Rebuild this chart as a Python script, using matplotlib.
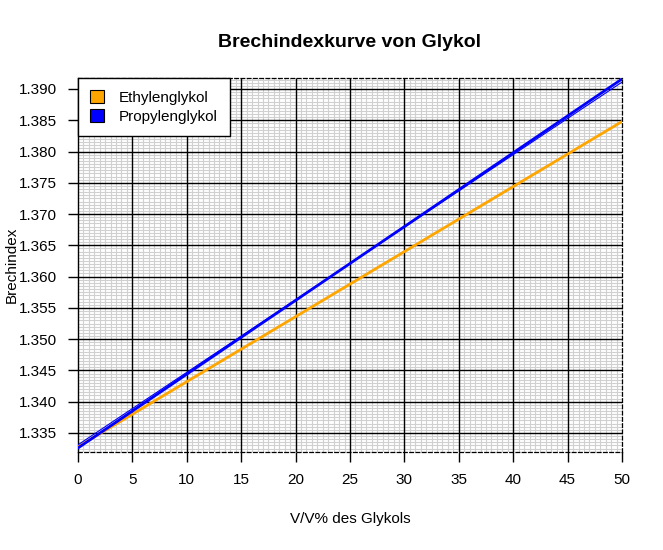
import matplotlib
matplotlib.use("Agg")
import matplotlib.pyplot as plt
from matplotlib.patches import Patch

plt.rcParams['font.family'] = ['Liberation Sans', 'DejaVu Sans']

# data
conc = [0, 10, 20, 30, 40, 50]
ethylen = [1.3328, 1.3432, 1.3536, 1.3640, 1.3744, 1.3848]
propylen = [1.3326, 1.3444, 1.3562, 1.3680, 1.3798, 1.3916]
propylen_fit = [1.3331, 1.3447, 1.3563, 1.3679, 1.3795, 1.3911]

x_ticks = list(range(0, 55, 5))
y_ticks = [1.335, 1.340, 1.345, 1.350, 1.355, 1.360, 1.365, 1.370,
           1.375, 1.380, 1.385, 1.390]

fig = plt.figure(figsize=(6.63, 5.5), dpi=100)
ax = fig.add_axes([0.1176, 0.1782, 0.8206, 0.68])

xlim = (0, 50)
ylim = (1.33196, 1.39176)

ax.set_xticks(x_ticks)
ax.set_yticks(y_ticks)
ax.set_yticklabels(["%.3f" % v for v in y_ticks])

# grid drawn by hand so the gray minor lines stay under the black ones
x_minor = [i * 0.5 for i in range(1, 100)]
y_minor = [1.332 + i * 0.0005 for i in range(120)]
ax.vlines(x_minor, *ylim, color='#d0d0d0', lw=0.8, zorder=0.5)
ax.hlines(y_minor, *xlim, color='#d0d0d0', lw=0.8, zorder=0.5)
ax.vlines(x_ticks[1:-1], *ylim, color='black', lw=1.0, zorder=1)
ax.hlines(y_ticks, *xlim, color='black', lw=1.0, zorder=1)
ax.set_xlim(*xlim)
ax.set_ylim(*ylim)

ax.tick_params(which='major', direction='out', length=7, width=1,
               labelsize=11, pad=8)

for side in ['top', 'right', 'bottom']:
    ax.spines[side].set_linestyle((0, (3, 2)))
    ax.spines[side].set_linewidth(0.9)
ax.spines['left'].set_linewidth(1.0)

ax.plot(conc, ethylen, color='orange', lw=2, zorder=3)
ax.plot(conc, propylen, color='blue', lw=2, zorder=4)
ax.plot(conc, propylen_fit, color='blue', lw=0.8, zorder=4)

ax.set_title("Brechindexkurve von Glykol", fontsize=14, fontweight='bold', pad=22)
ax.set_xlabel("V/V% des Glykols", fontsize=11, labelpad=18)
ax.set_ylabel("Brechindex", fontsize=11, labelpad=0)

handles = [Patch(facecolor='orange', edgecolor='black', lw=0.8),
           Patch(facecolor='blue', edgecolor='black', lw=0.8)]
leg = ax.legend(handles, ["Ethylenglykol", "Propylenglykol"], loc='upper left',
                borderaxespad=0, fontsize=11, fancybox=False, framealpha=1,
                handlelength=0.9, handleheight=0.9, handletextpad=1.0,
                borderpad=0.8, labelspacing=0.3)
leg.get_frame().set_edgecolor('black')
leg.get_frame().set_linewidth(1.0)
leg.set_zorder(10)

fig.savefig("out.png", dpi=100)
